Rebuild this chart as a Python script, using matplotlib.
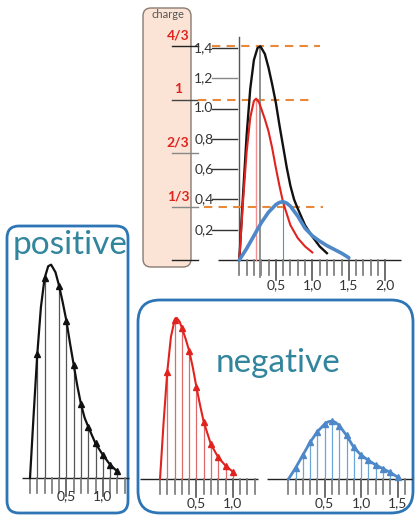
import numpy as np
import matplotlib
matplotlib.use('Agg')
import matplotlib.pyplot as plt
from matplotlib.patches import FancyBboxPatch

# ---------------- data ----------------
black_x = [0, 0.05, 0.10, 0.15, 0.20, 0.25, 0.29, 0.35, 0.40, 0.45, 0.50, 0.55,
           0.60, 0.65, 0.70, 0.75, 0.80, 0.90, 1.00, 1.10, 1.20]
black_y = [0, 0.42, 0.82, 1.13, 1.32, 1.40, 1.41, 1.36, 1.27, 1.16, 1.04, 0.89,
           0.75, 0.61, 0.49, 0.40, 0.34, 0.23, 0.155, 0.09, 0.045]

red_x = [0, 0.05, 0.10, 0.15, 0.20, 0.23, 0.27, 0.30, 0.35, 0.40, 0.45, 0.50,
         0.55, 0.60, 0.70, 0.80, 0.90, 1.00]
red_y = [0, 0.38, 0.71, 0.94, 1.05, 1.065, 1.04, 1.00, 0.93, 0.85, 0.74, 0.61,
         0.49, 0.38, 0.23, 0.145, 0.09, 0.05]

blue_x = [0, 0.1, 0.2, 0.3, 0.4, 0.5, 0.55, 0.6, 0.65, 0.7, 0.8, 0.9, 1.0,
          1.1, 1.2, 1.3, 1.4, 1.5]
blue_y = [0, 0.075, 0.16, 0.245, 0.315, 0.365, 0.38, 0.385, 0.375, 0.355, 0.29,
          0.21, 0.16, 0.125, 0.095, 0.07, 0.045, 0.015]

ytick_vals = [0.2, 0.4, 0.6, 0.8, 1.0, 1.2, 1.4]
ytick_labels = ['0,2', '0,4', '0,6', '0,8', '1.0', '1,2', '1,4']

charge_vals = [4/3, 1, 2/3, 1/3]
charge_labels = ['4/3', '1', '2/3', '1/3']

top_xlabels = ['0,5', '1,0', '1,5', '2,0']
pos_xlabels = ['0,5', '1,0']
red_xlabels = ['0,5', '1,0']
blue_xlabels = ['0,5', '1,0', '1,5']

# ---------------- style ----------------
BLACK = '#111111'
RED = '#e0231f'
BLUE = '#4f88c8'
ORANGE = '#e8893a'
BOXBLUE = '#2e75b6'
TEAL = '#31859c'
FONT = ['Lato', 'DejaVu Sans']
plt.rcParams['font.family'] = FONT

W, H = 415, 515
fig = plt.figure(figsize=(W / 100, H / 100), dpi=100)

overlay = fig.add_axes([0, 0, 1, 1])
overlay.set_xlim(0, W)
overlay.set_ylim(H, 0)
overlay.axis('off')

# charge box
overlay.add_patch(FancyBboxPatch((143, 8), 48, 259,
                                 boxstyle='round,pad=0,rounding_size=8',
                                 fc='#fbe4d5', ec='#8a7b72', lw=1.0))
overlay.text(168, 14.5, 'charge', fontsize=8, color='#555555',
             ha='center', va='center')
# positive box
overlay.add_patch(FancyBboxPatch((7, 226), 121, 287,
                                 boxstyle='round,pad=0,rounding_size=12',
                                 fc='white', ec=BOXBLUE, lw=2.0))
overlay.text(70, 254, 'positive', fontsize=24, color=TEAL,
             ha='center', va='baseline')
# negative box
overlay.add_patch(FancyBboxPatch((138, 300), 275, 213,
                                 boxstyle='round,pad=0,rounding_size=22',
                                 fc='white', ec=BOXBLUE, lw=2.0))
overlay.text(277.5, 372, 'negative', fontsize=24, color=TEAL,
             ha='center', va='baseline')


def chart_ax(px_l, px_t, px_r, px_b, ox, oy, sx=72.8, sy=151.5):
    ax = fig.add_axes([px_l / W, 1 - px_b / H, (px_r - px_l) / W, (px_b - px_t) / H])
    ax.set_xlim((px_l - ox) / sx, (px_r - ox) / sx)
    ax.set_ylim((oy - px_b) / sy, (oy - px_t) / sy)
    ax.axis('off')
    ax.patch.set_alpha(0)
    return ax


def draw_xaxis(ax, x0, x1, nmax, labels, label_y, tick_len=0.095, long_len=0.12):
    ax.plot([x0, x1], [0, 0], color='#222222', lw=1.0, solid_capstyle='butt')
    for i in range(nmax + 1):
        t = i / 10
        is_long = (i % 5 == 0 and i > 0)
        ax.plot([t, t], [0, -(long_len if is_long else tick_len)],
                color='#555555' if is_long else '#777777', lw=1.2)
    for k, lab in enumerate(labels):
        ax.text(0.5 * (k + 1), label_y, lab, fontsize=10, color='#333333',
                ha='center', va='center')


def stem_chart(ax, xs, ys, color, stem_color, lw):
    xs = np.asarray(xs)
    ys = np.asarray(ys)
    mask = np.isclose(xs * 10, np.round(xs * 10)) & (xs > 0)
    ax.vlines(xs[mask], 0, ys[mask], color=stem_color, lw=0.9)
    ax.plot(xs, ys, color=color, lw=lw, solid_capstyle='round')
    ax.plot(xs[mask], ys[mask], linestyle='none', marker='^', ms=4.5,
            color=color)


# ---------------- top chart ----------------
top = chart_ax(140, 0, 415, 300, 239.3, 260, sx=73)
scale = max(black_y) / charge_vals[0]

# y axis
top.plot([0, 0], [0, 1.47], color='#555555', lw=1.0)
for v, lab in zip(ytick_vals, ytick_labels):
    top.plot([-0.37, -0.03], [v, v], color='#888888' if lab == '1,2' else '#333333', lw=1.0)
    top.text(-0.355, v, lab, fontsize=10, color='#333333', ha='right', va='center')

draw_xaxis(top, -0.29, 2.22, 20, top_xlabels, -0.165, tick_len=0.1, long_len=0.13)

# charge levels
under_colors = ['#222222', '#444444', '#888888', '#888888']
dash_ranges = [(-0.37, 1.11), (-0.56, 0.97), None, (-0.49, 1.15)]
for c, lab, uc, dr in zip(charge_vals, charge_labels, under_colors, dash_ranges):
    lvl = c * scale
    top.plot([-0.92, -0.56], [lvl, lvl], color=uc, lw=1.0)
    top.text(-0.84, lvl + 0.03, lab, fontsize=10, color=RED, fontweight='bold',
             ha='center', va='bottom')
    if dr is not None:
        top.plot(list(dr), [lvl, lvl], color=ORANGE, lw=1.5, dashes=(4, 3))
top.plot([-0.92, -0.56], [0, 0], color='#222222', lw=1.0)

# peak markers
bi = int(np.argmax(black_y))
ri = int(np.argmax(red_y))
ui = int(np.argmax(blue_y))
top.plot([black_x[bi], black_x[bi]], [-0.11, black_y[bi]], color='#888888', lw=1.3)
top.plot([red_x[ri], red_x[ri]], [0, red_y[ri]], color='#f09090', lw=1.0)
top.plot([blue_x[ui], blue_x[ui]], [0, blue_y[ui]], color='#3aa0c0', lw=0.8)

top.plot(black_x, black_y, color=BLACK, lw=1.7)
top.plot(red_x, red_y, color=RED, lw=1.5)
top.plot(blue_x, blue_y, color=BLUE, lw=2.6, solid_capstyle='round')

# ---------------- positive chart ----------------
pos = chart_ax(0, 226, 135, 515, 30, 478.3)
draw_xaxis(pos, -0.11, 1.36, 13, pos_xlabels, -0.12)
stem_chart(pos, black_x, black_y, BLACK, '#555555', 1.6)

# ---------------- negative charts ----------------
neg_r = chart_ax(138, 300, 265, 515, 160, 479.3)
draw_xaxis(neg_r, -0.27, 1.34, 13, red_xlabels, -0.155)
stem_chart(neg_r, red_x, red_y, RED, '#e06a6a', 1.5)

neg_b = chart_ax(265, 300, 415, 515, 288.3, 479.3)
draw_xaxis(neg_b, -0.29, 1.70, 16, blue_xlabels, -0.155)
stem_chart(neg_b, blue_x, blue_y, BLUE, '#6aa6d8', 2.0)

fig.savefig('out.png', dpi=100)
